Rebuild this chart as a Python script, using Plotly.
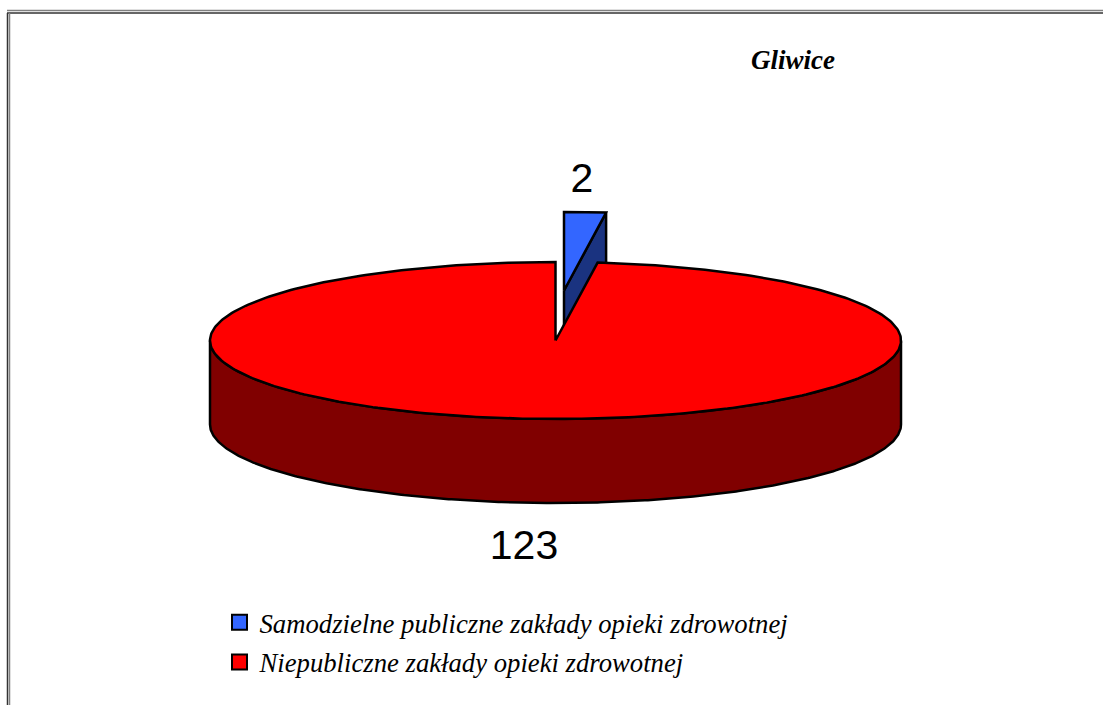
import numpy as np
import plotly.graph_objects as go

TITLE = "Gliwice"
categories = ["Samodzielne publiczne zakłady opieki zdrowotnej",
              "Niepubliczne zakłady opieki zdrowotnej"]
values = [2, 123]
colors = ["#3366FF", "#FF0000"]
side_colors = ["#1A3380", "#800000"]

# pie projection (pixel-aligned axes)
W, H = 1103, 705
CX, CY, RX, RY, DEPTH = 555.5, 340.5, 345.5, 78.5, 84
EXPLODE = (8.5, -50)
ANGLE_STRETCH = 1.215   # projected sweep of the small slice

sweep = 360 * values[0] / sum(values) * ANGLE_STRETCH


def arc(t0, t1, cx, cy):
    t = np.radians(np.linspace(t0, t1, 361))
    return cx + RX * np.sin(t), cy - RY * np.cos(t)


def poly(fig, xs, ys, fill):
    fig.add_trace(go.Scatter(x=list(xs) + [xs[0]], y=list(ys) + [ys[0]], mode="lines",
                             fill="toself", fillcolor=fill,
                             line=dict(color="black", width=2.5),
                             showlegend=False, hoverinfo="skip"))


fig = go.Figure()

# exploded slice: cut wall, then top
bx, by = CX + EXPLODE[0], CY + EXPLODE[1]
ax, ay = arc(0, sweep, bx, by)
poly(fig, [bx, ax[-1], ax[-1], bx], [by, ay[-1], ay[-1] + DEPTH, by + DEPTH], side_colors[0])
poly(fig, [bx, *ax], [by, *ay], colors[0])

# large slice: front wall, then top
fx, fy = arc(90, 270, CX, CY)
poly(fig, [*fx, *fx[::-1]], [*fy, *(fy[::-1] + DEPTH)], side_colors[1])
rx, ry = arc(sweep, 360, CX, CY)
poly(fig, [CX, *rx], [CY, *ry], colors[1])

# legend entries
for name, c in zip(categories, colors):
    fig.add_trace(go.Scatter(x=[None], y=[None], mode="markers", name=name, legendgroup=name,
                             marker=dict(symbol="square", size=15, color=c,
                                         line=dict(color="black", width=2))))

# value labels
fig.add_trace(go.Scatter(x=[582, 524], y=[182, 549], mode="text",
                         text=[str(v) for v in values],
                         textposition="middle center",
                         textfont=dict(family="Liberation Sans", size=41, color="black"),
                         showlegend=False, hoverinfo="skip"))

shapes = [
    dict(type="line", x0=7, x1=W, y0=10.5, y1=10.5, line=dict(color="#808080", width=1.5)),
    dict(type="line", x0=7, x1=W, y0=13, y1=13, line=dict(color="#333333", width=1.5)),
    dict(type="line", x0=7.5, x1=7.5, y0=13, y1=H, line=dict(color="#333333", width=1.5)),
    dict(type="line", x0=9.5, x1=9.5, y0=13, y1=H, line=dict(color="#808080", width=1.5)),
]

fig.update_layout(
    width=W, height=H, autosize=False,
    margin=dict(l=0, r=0, t=0, b=0, autoexpand=False),
    paper_bgcolor="white", plot_bgcolor="white",
    xaxis=dict(range=[0, W], visible=False, fixedrange=True),
    yaxis=dict(range=[H, 0], visible=False, fixedrange=True),
    shapes=shapes,
    annotations=[dict(x=793, y=60, xref="x", yref="y", text=f"<b><i>{TITLE}</i></b>", showarrow=False,
                      font=dict(family="Liberation Serif", size=27, color="black"))],
    legend=dict(x=219.5 / W, y=1 - 598.5 / H, xanchor="left", yanchor="top",
                bgcolor="rgba(0,0,0,0)", tracegroupgap=2,
                font=dict(family="Liberation Serif", size=26.7, style="italic", color="black")),
)
fig.write_html("out.html", config=dict(displayModeBar=False),
               post_script="document.body.style.margin='0';document.body.style.overflow='hidden';")
